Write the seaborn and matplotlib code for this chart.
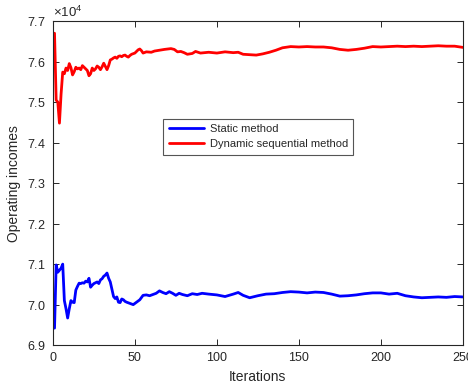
import matplotlib
matplotlib.use("Agg")
import matplotlib.pyplot as plt
import seaborn as sns
import pandas as pd
from matplotlib.ticker import ScalarFormatter

# ---- data ----
static_iter = [1, 2, 3, 4, 5, 6, 7, 8, 9, 10, 11, 12, 13, 14, 15, 16, 17, 18, 19, 20,
               21, 22, 23, 24, 25, 26, 27, 28, 29, 30, 31, 32, 33, 34, 35, 36, 37, 38, 39, 40,
               41, 42, 43, 44, 45, 47, 49, 51, 53, 55, 57, 59, 61, 63, 65, 67, 69, 71, 73, 75,
               77, 79, 82, 85, 88, 91, 95, 100, 105, 110, 113, 116, 120, 125, 130, 135, 140, 145,
               150, 155, 160, 165, 170, 175, 180, 185, 190, 195, 200, 205, 210, 215, 220, 225,
               230, 235, 240, 245, 250]
static_vals = [69420, 70980, 70800, 70850, 70900, 71000, 70100, 69900, 69670, 69900,
               70100, 70060, 70050, 70360, 70450, 70530, 70520, 70540, 70530, 70580,
               70560, 70650, 70430, 70480, 70520, 70540, 70560, 70520, 70610, 70640,
               70700, 70730, 70780, 70650, 70560, 70380, 70200, 70150, 70190, 70060,
               70050, 70140, 70120, 70080, 70060, 70030, 70000, 70060, 70120, 70230,
               70240, 70220, 70250, 70280, 70340, 70300, 70270, 70320, 70280, 70230,
               70280, 70250, 70220, 70270, 70250, 70280, 70260, 70240, 70200, 70260,
               70300, 70230, 70170, 70220, 70260, 70270, 70300, 70320, 70310, 70290,
               70310, 70300, 70260, 70210, 70220, 70240, 70270, 70290, 70290, 70260,
               70280, 70220, 70190, 70170, 70180, 70190, 70180, 70200, 70190]

dynamic_iter = [1, 2, 3, 4, 5, 6, 7, 8, 9, 10, 11, 12, 13, 14, 15, 16, 17, 18, 19, 20,
                21, 22, 23, 24, 25, 26, 27, 28, 29, 30, 31, 32, 33, 34, 35, 36, 37, 38, 39, 40,
                41, 42, 43, 44, 45, 46, 47, 48, 50, 52, 53, 54, 55, 57, 60, 62, 65, 68, 70, 72,
                74, 76, 78, 80, 82, 85, 87, 90, 95, 100, 105, 110, 113, 116, 120, 124, 128, 132,
                136, 140, 145, 150, 155, 160, 165, 170, 175, 180, 185, 190, 195, 200, 205, 210,
                215, 220, 225, 230, 235, 240, 245, 250]
dynamic_vals = [76700, 75050, 75000, 74480, 75200, 75740, 75700, 75840, 75780, 75950,
                75850, 75670, 75750, 75860, 75820, 75840, 75800, 75900, 75860, 75820,
                75780, 75650, 75700, 75840, 75780, 75820, 75890, 75860, 75800, 75870,
                75960, 75880, 75800, 75900, 76040, 76060, 76090, 76110, 76080, 76130,
                76140, 76120, 76150, 76160, 76130, 76110, 76150, 76180, 76210, 76290,
                76310, 76270, 76210, 76240, 76230, 76260, 76280, 76300, 76310, 76320,
                76300, 76240, 76250, 76220, 76180, 76200, 76250, 76210, 76230, 76210,
                76240, 76220, 76230, 76180, 76170, 76160, 76190, 76230, 76280, 76340,
                76370, 76360, 76370, 76360, 76360, 76340, 76300, 76280, 76300, 76330,
                76370, 76360, 76370, 76380, 76370, 76380, 76370, 76380, 76390, 76380,
                76380, 76350]

series_names = ["Static method", "Dynamic sequential method"]
series_colors = ["#0000ff", "#ff0000"]
x_ticks = [0, 50, 100, 150, 200, 250]
y_ticks = [69000, 70000, 71000, 72000, 73000, 74000, 75000, 76000, 77000]

df = pd.concat([
    pd.DataFrame({"Iterations": static_iter, "Operating incomes": static_vals,
                  "Method": series_names[0]}),
    pd.DataFrame({"Iterations": dynamic_iter, "Operating incomes": dynamic_vals,
                  "Method": series_names[1]}),
], ignore_index=True)

sns.set_style("ticks")
plt.rcParams["font.family"] = ["Liberation Sans", "DejaVu Sans"]
plt.rcParams["mathtext.fontset"] = "custom"
plt.rcParams["mathtext.rm"] = "Liberation Sans"

fig = plt.figure(figsize=(4.68, 3.90), dpi=100)
ax = fig.add_axes([0.113, 0.115, 0.876, 0.831])

sns.lineplot(data=df, x="Iterations", y="Operating incomes", hue="Method",
             hue_order=series_names, palette=series_colors, linewidth=2.0,
             estimator=None, sort=False, ax=ax)

ax.set_xlim(0, 250)
ax.set_ylim(69000, 77000)
ax.set_xticks(x_ticks)
ax.set_yticks(y_ticks)
fmt = ScalarFormatter(useMathText=True)
fmt.set_powerlimits((0, 0))
ax.yaxis.set_major_formatter(fmt)
ax.yaxis.get_offset_text().set_fontsize(9.5)
ax.yaxis.get_offset_text().set_color("#262626")

axis_col = "#262626"
for s in ax.spines.values():
    s.set_visible(True)
    s.set_color(axis_col)
    s.set_linewidth(0.8)
ax.tick_params(direction="in", top=True, right=True, length=4, width=0.7,
               colors=axis_col, labelsize=9, pad=5)
ax.set_xlabel("Iterations", fontsize=10, color=axis_col, labelpad=4)
ax.set_ylabel("Operating incomes", fontsize=10, color=axis_col, labelpad=4)

leg = ax.legend(loc="upper left", bbox_to_anchor=(0.255, 0.716), fontsize=8,
                frameon=True, fancybox=False, framealpha=1, edgecolor="#555555",
                handlelength=3.2, borderpad=0.5, labelspacing=0.45, handletextpad=0.5)
leg.get_frame().set_linewidth(0.8)

fig.savefig("out.png", dpi=100)
